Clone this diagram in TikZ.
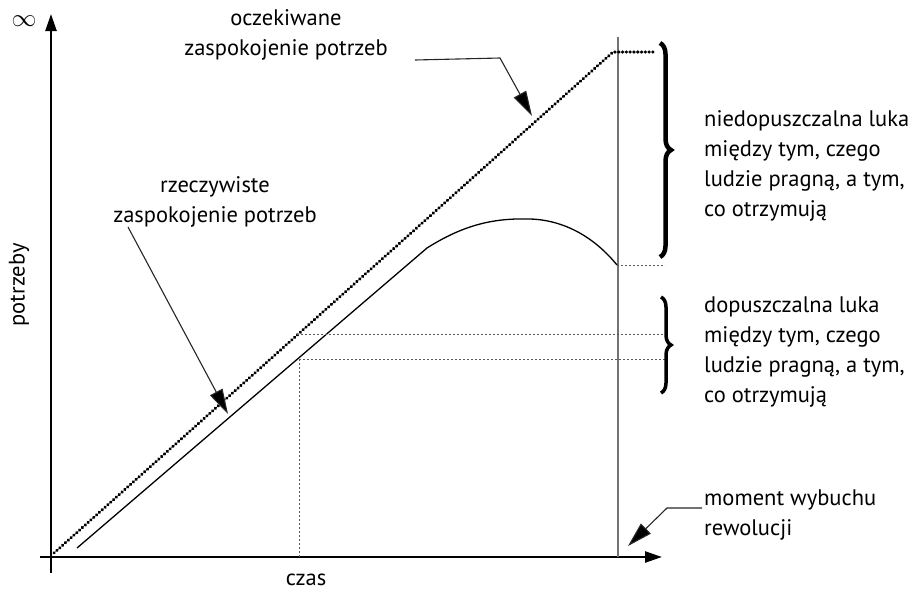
\documentclass[tikz,border=0pt]{standalone}
\usepackage{fontspec}
\setmainfont{PT Sans}
\usetikzlibrary{arrows.meta,decorations.pathreplacing}
\begin{document}
\begin{tikzpicture}[x=1pt,y=-1pt,font=\fontsize{22.5}{30}\selectfont,
  axis/.style={line width=2.4pt,-{Triangle[length=17pt,width=11pt]}},
  dotline/.style={line width=3.2pt,line cap=round,dash pattern=on 0.4pt off 3.4pt},
  thindash/.style={line width=0.9pt,black!65,dash pattern=on 2pt off 2pt},
  curve/.style={line width=1.3pt},
  revline/.style={line width=1.1pt,black!55},
  pointer/.style={line width=1.1pt,black!85,-{Triangle[length=25pt,width=14pt,fill=black]}},
  bracebig/.style={decorate,decoration={brace,amplitude=11pt},line width=4.5pt},
  bracesmall/.style={decorate,decoration={brace,amplitude=10pt},line width=3.5pt},
  lbl/.style={align=left,inner sep=0pt,anchor=base west},
  clbl/.style={align=center,inner sep=0pt,anchor=base}]
\useasboundingbox (0,0) rectangle (923,592);

% coordinates
\coordinate (o) at (51,557);
\coordinate (ybot) at (51,573);
\coordinate (ytop) at (51,14);
\coordinate (xl) at (40,557);
\coordinate (xr) at (662,557);
\coordinate (d0) at (54,553);
\coordinate (d1) at (613,52);
\coordinate (d2) at (653,52);
\coordinate (s0) at (77,548);
\coordinate (s1) at (427,248);
\coordinate (s2) at (530,219);
\coordinate (s3) at (617,265);
\coordinate (s4) at (665,265);
\coordinate (rv0) at (618,37);
\coordinate (rv1) at (618,557);
\coordinate (h1a) at (297,334);
\coordinate (h1b) at (665,334);
\coordinate (h2a) at (299,359);
\coordinate (h2b) at (665,359);
\coordinate (vb) at (299,557);

% axes
\draw[axis] (ybot) -- (ytop);
\draw[axis] (xl) -- (xr);
\node[inner sep=0pt,font=\fontsize{27}{30}\selectfont] (inf) at (24,21) {$\infty$};
\node[rotate=90,inner sep=0pt] (ylab) at (19,285) {potrzeby};
\node[clbl] (xlab) at (306,585) {czas};

% revolution line
\draw[revline] (rv0) -- (rv1);

% expected
\draw[dotline] (d0) -- (d1) -- (d2);
% actual
\draw[curve] (s0) -- (s1) .. controls (465,224) and (495,218) .. (s2)
  .. controls (565,220) and (595,238) .. (s3);

% dashed helpers
\draw[thindash] (s3) -- (s4);
\draw[thindash] (h1a) -- (h1b);
\draw[thindash] (h2a) -- (h2b);
\draw[thindash] (h2a) -- (vb);

% braces
\draw[bracebig] (660,43) -- (660,257);
\draw[bracesmall] (661,297) -- (661,393);

% labels (base anchor = baseline of last line)
\node[lbl] (nied) at (704,216) {niedopuszczalna luka\\między tym, czego\\ludzie pragną, a tym,\\co otrzymują};
\node[lbl] (dop) at (704,402) {dopuszczalna luka\\między tym, czego\\ludzie pragną, a tym,\\co otrzymują};
\node[lbl] (mom) at (704,535) {moment wybuchu\\rewolucji};
\node[clbl] (ocz) at (286,55) {oczekiwane\\zaspokojenie potrzeb};
\node[clbl] (rzecz) at (215,222) {rzeczywiste\\zaspokojenie potrzeb};

% pointers
\coordinate (p1a) at (415,60);
\coordinate (p1b) at (500,58);
\coordinate (p1c) at (532,116);
\draw[pointer] (p1a) -- (p1b) -- (p1c);
\coordinate (p2a) at (128,227);
\coordinate (p2b) at (228,414);
\draw[pointer] (p2a) -- (p2b);
\coordinate (p3a) at (702,508);
\coordinate (p3b) at (667,508);
\coordinate (p3c) at (628,546);
\draw[pointer] (p3a) -- (p3b) -- (p3c);
\end{tikzpicture}
\end{document}
